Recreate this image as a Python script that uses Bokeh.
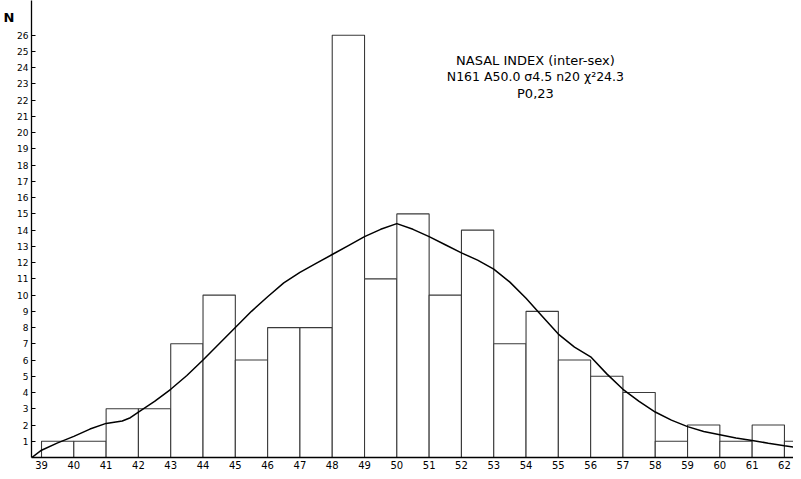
from bokeh.plotting import figure
from bokeh.models import Label, FixedTicker, Range1d, LinearAxis
from bokeh.embed import file_html
from bokeh.resources import INLINE

# Histogram: class edges and counts
edges = [39, 40, 41, 42, 43, 44, 45, 46, 47, 48, 49, 50, 51, 52, 53, 54, 55, 56, 57, 58, 59, 60, 61, 62, 63]
counts = [1, 1, 3, 3, 7, 10, 6, 8, 8, 26, 11, 15, 10, 14, 7, 9, 6, 5, 4, 1, 2, 1, 2, 1]

# Fitted smooth curve
curve_x = [38.7, 39.0, 39.5, 40.0, 40.5, 41.0, 41.5, 41.75, 42.0, 42.5, 43.0, 43.5, 44.0, 44.5, 45.0, 45.5,
           46.0, 46.5, 47.0, 47.5, 48.0, 48.5, 49.0, 49.5, 50.0, 50.5, 51.0, 51.5, 52.0, 52.5, 53.0, 53.5,
           54.0, 54.5, 55.0, 55.5, 56.0, 56.5, 57.0, 57.5, 58.0, 58.5, 59.0, 59.5, 60.0, 60.5, 61.0, 61.5,
           62.0, 62.5]
curve_y = [0.0, 0.45, 0.9, 1.3, 1.75, 2.1, 2.25, 2.45, 2.8, 3.45, 4.2, 5.05, 6.0, 7.0, 8.0, 9.0,
           9.9, 10.75, 11.4, 11.95, 12.5, 13.05, 13.6, 14.05, 14.4, 14.05, 13.6, 13.1, 12.6, 12.15, 11.6, 10.8,
           9.8, 8.7, 7.6, 6.8, 6.2, 5.15, 4.2, 3.45, 2.8, 2.3, 1.9, 1.6, 1.4, 1.2, 1.05, 0.88,
           0.72, 0.57]

y_ticks = list(range(1, 27))
x_ticks = list(range(39, 63))
y_title = "N"
y_title_pos = 27.1

title_lines = ["NASAL INDEX (inter-sex)", "N161 A50.0 σ4.5 n20 χ²24.3", "P0,23"]
title_y = [24.45, 23.46, 22.41]

p = figure(width=793, height=471, output_backend="svg", toolbar_location=None,
           x_range=Range1d(38.69, 62.28), y_range=Range1d(0, 28.14),
           min_border_left=22, min_border_right=0, min_border_top=0, min_border_bottom=14)
p.outline_line_color = None
p.xgrid.visible = False
p.ygrid.visible = False
p.background_fill_color = "white"

p.quad(left=edges[:-1], right=edges[1:], top=counts, bottom=0,
       fill_color="white", line_color="#3a3a3a", line_width=1.1)
p.line(curve_x, curve_y, line_color="black", line_width=1.5)

ya = p.yaxis[0]
ya.ticker = FixedTicker(ticks=y_ticks)
ya.major_tick_in = 4
ya.major_tick_out = 0
ya.minor_tick_line_color = None
ya.axis_line_color = "black"
ya.axis_line_width = 1.3
ya.major_label_text_font = "DejaVu Sans"
ya.major_label_text_font_size = "9px"
ya.major_label_standoff = 3
ya.major_label_text_color = "black"

# outer axis carrying only the "N" heading beside the top of the y axis
na = LinearAxis(ticker=FixedTicker(ticks=[y_title_pos]),
                major_label_overrides={y_title_pos: y_title})
na.axis_line_color = None
na.major_tick_line_color = None
na.minor_tick_line_color = None
na.major_tick_in = 0
na.major_tick_out = 0
na.major_label_standoff = 0
na.major_label_text_font = "DejaVu Sans"
na.major_label_text_font_size = "13px"
na.major_label_text_font_style = "bold"
na.major_label_text_color = "black"
p.add_layout(na, "left")

xa = p.xaxis[0]
xa.ticker = FixedTicker(ticks=x_ticks)
xa.major_tick_in = 0
xa.major_tick_out = 0
xa.minor_tick_line_color = None
xa.axis_line_color = "black"
xa.axis_line_width = 1.3
xa.major_label_text_font = "DejaVu Sans"
xa.major_label_text_font_size = "10px"
xa.major_label_standoff = 3
xa.major_label_text_color = "black"

for txt, yy, fs in zip(title_lines, title_y, ["13px", "12.5px", "13px"]):
    p.add_layout(Label(x=54.29, y=yy, text=txt, text_align="center", text_baseline="middle",
                       text_font="DejaVu Sans", text_font_size=fs, text_color="black"))

open("out.html", "w").write(file_html(p, INLINE))
